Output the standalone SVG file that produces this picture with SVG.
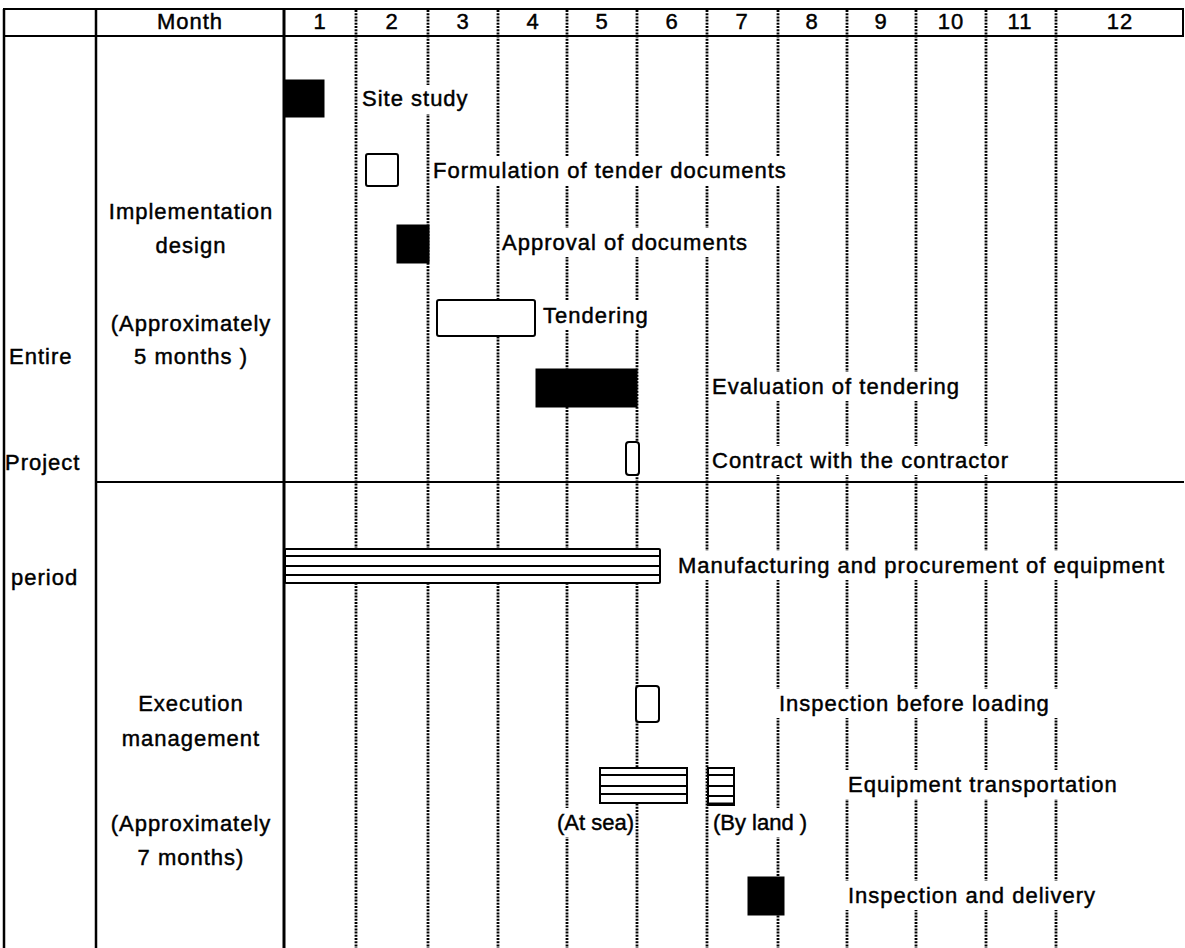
<svg xmlns="http://www.w3.org/2000/svg" width="1185" height="948" viewBox="0 0 1185 948">
<style>
text{font-family:"Liberation Sans",Arial,sans-serif;font-size:22px;fill:#000;stroke:#000;stroke-width:0.45;letter-spacing:1px}
.c{text-anchor:middle}
.n{letter-spacing:0}
.dot{stroke:#000;stroke-width:2.8;stroke-dasharray:2 1.2;fill:none}
.sol{stroke:#000;fill:none}
.blk{fill:#000;stroke:#000;stroke-width:1}
.wht{fill:#fff;stroke:#000;stroke-width:2}
.bg{fill:#fff;stroke:none}
</style>
<rect width="1185" height="948" fill="#fff"/>
<g id="grid">
<line class="dot" x1="356" y1="10" x2="356" y2="948"/>
<line class="dot" x1="428" y1="10" x2="428" y2="948"/>
<line class="dot" x1="498" y1="10" x2="498" y2="948"/>
<line class="dot" x1="567" y1="10" x2="567" y2="948"/>
<line class="dot" x1="637" y1="10" x2="637" y2="948"/>
<line class="dot" x1="707" y1="10" x2="707" y2="948"/>
<line class="dot" x1="778" y1="10" x2="778" y2="948"/>
<line class="dot" x1="847" y1="10" x2="847" y2="948"/>
<line class="dot" x1="916" y1="10" x2="916" y2="948"/>
<line class="dot" x1="986" y1="10" x2="986" y2="948"/>
<line class="dot" x1="1056" y1="10" x2="1056" y2="948"/>
<line class="sol" stroke-width="2.5" x1="4" y1="9" x2="4" y2="948"/>
<line class="sol" stroke-width="2.5" x1="96" y1="9" x2="96" y2="948"/>
<line class="sol" stroke-width="3" x1="284" y1="9" x2="284" y2="948"/>
<line class="sol" stroke-width="2" x1="1183" y1="9" x2="1183" y2="36"/>
<line class="sol" stroke-width="2" x1="3" y1="9" x2="1184" y2="9"/>
<line class="sol" stroke-width="2" x1="3" y1="36" x2="1184" y2="36"/>
<line class="sol" stroke-width="2" x1="96" y1="482" x2="1184" y2="482"/>
</g>
<g id="header">
<text class="c" x="190" y="29">Month</text>
<text class="c" x="320" y="29">1</text>
<text class="c" x="392" y="29">2</text>
<text class="c" x="463" y="29">3</text>
<text class="c" x="533" y="29">4</text>
<text class="c" x="602" y="29">5</text>
<text class="c" x="672" y="29">6</text>
<text class="c" x="742" y="29">7</text>
<text class="c" x="812" y="29">8</text>
<text class="c" x="881" y="29">9</text>
<text class="c" x="951" y="29">10</text>
<text class="c" x="1020" y="29">11</text>
<text class="c" x="1120" y="29">12</text>
</g>
<g id="left-labels">
<text x="9" y="364">Entire</text>
<text x="5" y="470">Project</text>
<text x="11" y="585">period</text>
<text class="c" x="191" y="219">Implementation</text>
<text class="c" x="191" y="253">design</text>
<text class="c" x="191" y="331">(Approximately</text>
<text class="c" x="191" y="364">5 months )</text>
<text class="c" x="191" y="711">Execution</text>
<text class="c" x="191" y="746">management</text>
<text class="c" x="191" y="831">(Approximately</text>
<text class="c" x="191" y="865">7 months)</text>
</g>
<g id="site-study">
<rect class="blk" x="285" y="80" width="39" height="37"/>
<rect class="bg" x="359" y="85" width="108" height="29"/>
<text x="362" y="106">Site study</text>
</g>
<g id="formulation">
<rect class="wht" x="366" y="154" width="32" height="32" rx="2"/>
<rect class="bg" x="431" y="157" width="372" height="29"/>
<text x="433" y="178">Formulation of tender documents</text>
</g>
<g id="approval">
<rect class="blk" x="397" y="225" width="32" height="38"/>
<rect class="bg" x="500" y="228" width="268" height="29"/>
<text x="502" y="250">Approval of documents</text>
</g>
<g id="tendering">
<rect class="wht" x="437" y="300" width="98" height="36" rx="2"/>
<rect class="bg" x="540" y="301" width="118" height="29"/>
<text x="543" y="323">Tendering</text>
</g>
<g id="evaluation">
<rect class="blk" x="536" y="369" width="101" height="38"/>
<rect class="bg" x="709" y="372" width="264" height="29"/>
<text x="712" y="394">Evaluation of tendering</text>
</g>
<g id="contract">
<rect class="wht" x="626" y="442" width="13" height="33" rx="3"/>
<rect class="bg" x="709" y="446" width="296" height="29"/>
<text x="712" y="468">Contract with the contractor</text>
</g>
<g id="manufacturing">
<rect class="wht" x="285" y="549" width="375" height="34" rx="1"/>
<line class="sol" stroke-width="2" x1="285" y1="556" x2="660" y2="556"/>
<line class="sol" stroke-width="2" x1="285" y1="566" x2="660" y2="566"/>
<line class="sol" stroke-width="2" x1="285" y1="575" x2="660" y2="575"/>
<rect class="bg" x="676" y="551" width="509" height="29"/>
<text x="678" y="573">Manufacturing and procurement of equipment</text>
</g>
<g id="inspection-loading">
<rect class="wht" x="636" y="686" width="23" height="36" rx="3"/>
<rect class="bg" x="776" y="689" width="300" height="29"/>
<text x="779" y="711">Inspection before loading</text>
</g>
<g id="transportation">
<rect class="wht" x="600" y="768" width="87" height="35"/>
<line class="sol" stroke-width="2" x1="600" y1="775" x2="687" y2="775"/>
<line class="sol" stroke-width="2" x1="600" y1="786" x2="687" y2="786"/>
<line class="sol" stroke-width="2" x1="600" y1="794" x2="687" y2="794"/>
<rect class="wht" x="708" y="768" width="26" height="37"/>
<line class="sol" stroke-width="2" x1="708" y1="775" x2="734" y2="775"/>
<line class="sol" stroke-width="2" x1="708" y1="786" x2="734" y2="786"/>
<line class="sol" stroke-width="2" x1="708" y1="796" x2="734" y2="796"/>
<line class="sol" stroke-width="3" x1="708" y1="804" x2="734" y2="804"/>
<rect class="bg" x="845" y="770" width="296" height="29"/>
<text x="848" y="792">Equipment transportation</text>
<rect class="bg" x="555" y="808" width="76" height="29"/>
<text class="n" x="557" y="830">(At sea)</text>
<rect class="bg" x="711" y="808" width="86" height="29"/>
<text class="n" x="713" y="830">(By land )</text>
</g>
<g id="inspection-delivery">
<rect class="blk" x="748" y="877" width="36" height="38"/>
<rect class="bg" x="845" y="881" width="268" height="29"/>
<text x="848" y="903">Inspection and delivery</text>
</g>
</svg>
